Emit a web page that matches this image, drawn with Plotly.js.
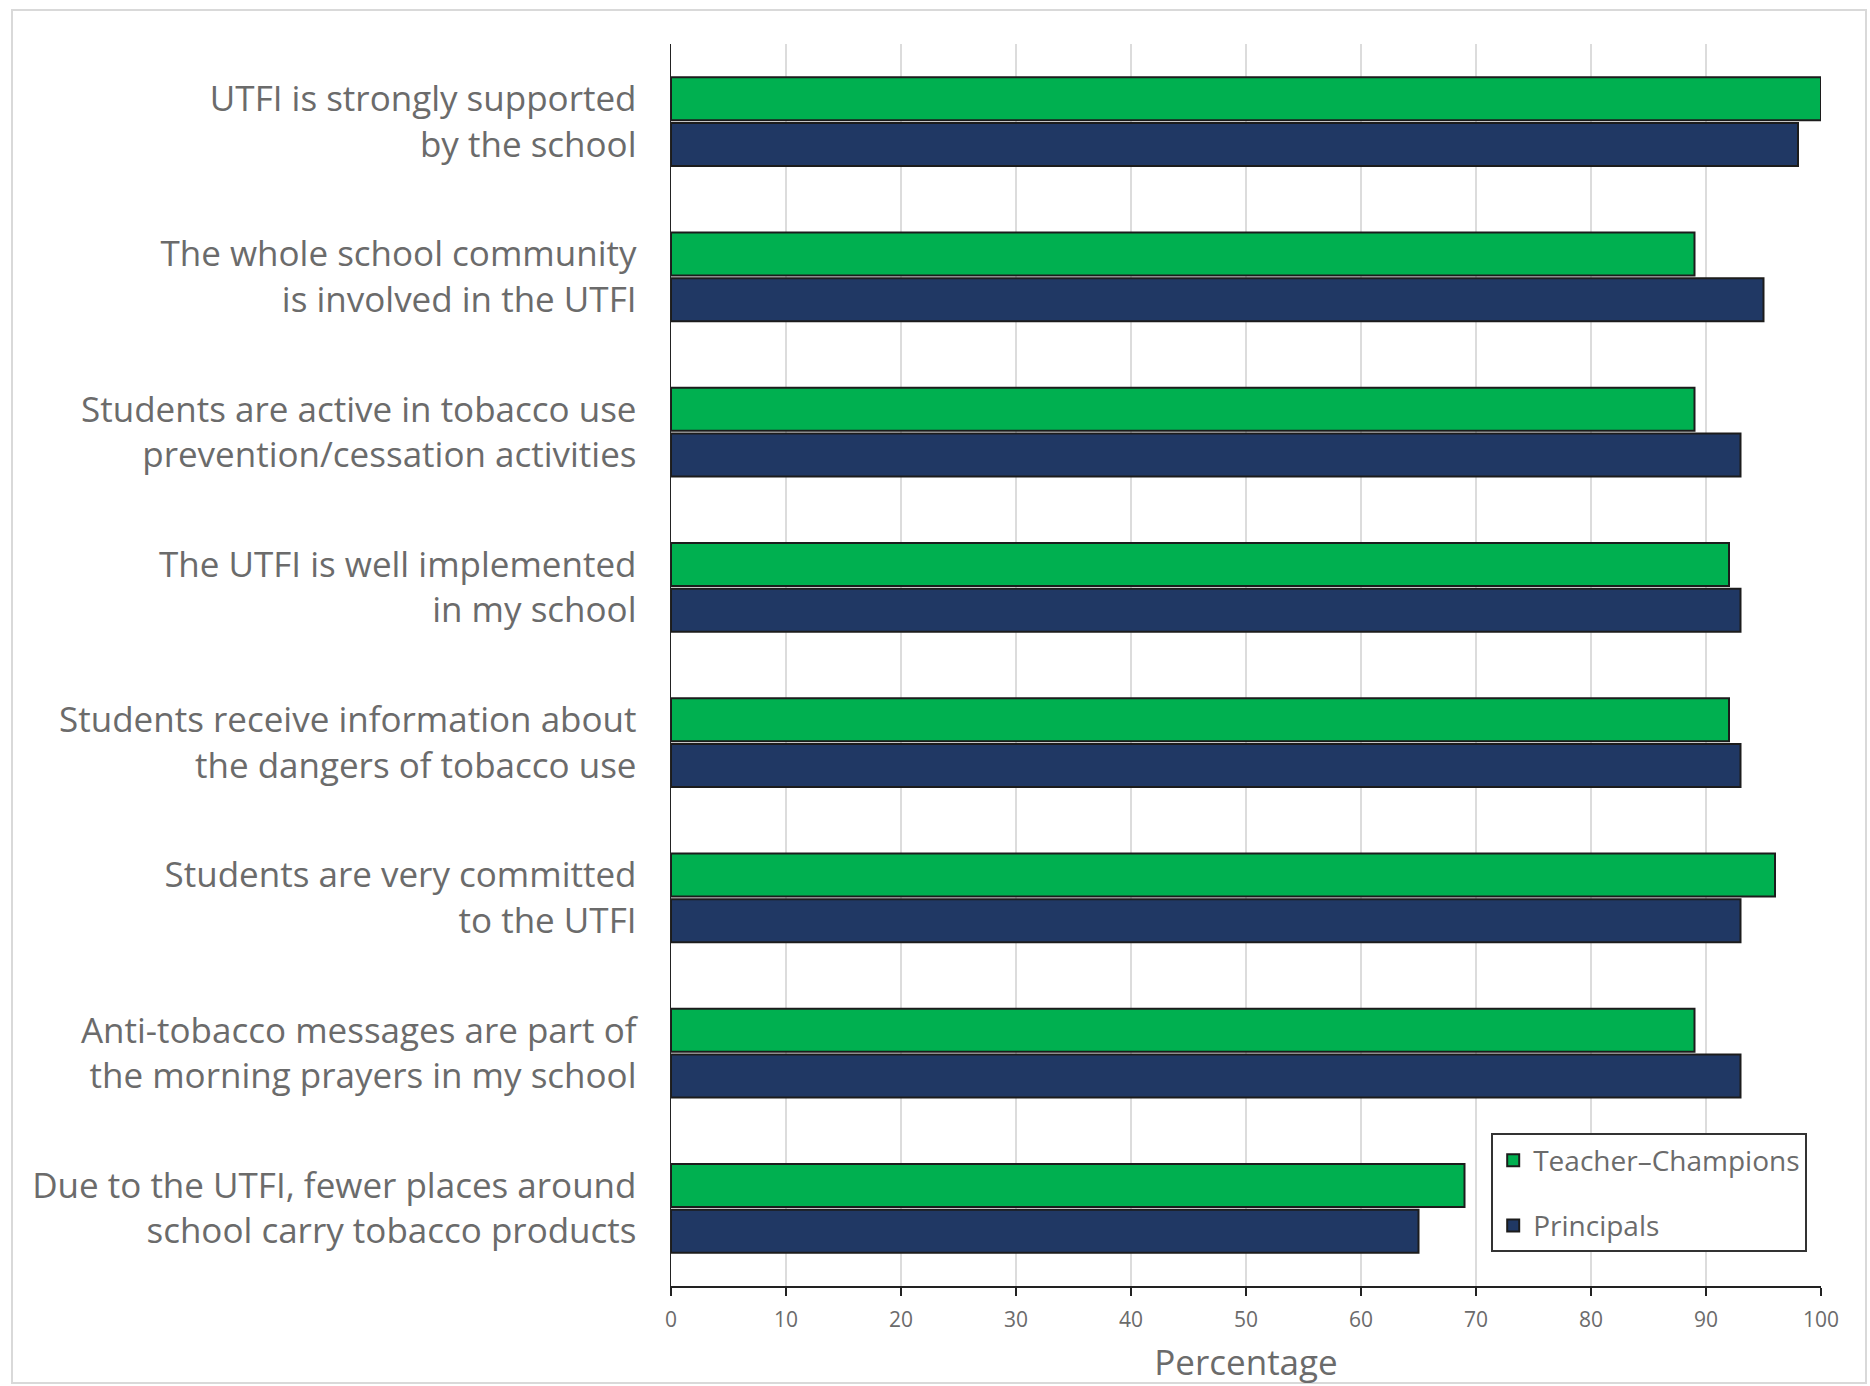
<!DOCTYPE html>
<html>
<head>
<meta charset="utf-8">
<script src="https://cdn.plot.ly/plotly-3.0.1.min.js"></script>
<style>
  html, body { margin: 0; padding: 0; background: #ffffff; }
  #chart { width: 1870px; height: 1386px; }
</style>
</head>
<body>
<div id="chart"></div>
<script>
// ---- data ----
const categories = [
  "UTFI is strongly supported<br>by the school",
  "The whole school community<br>is involved in the UTFI",
  "Students are active in tobacco use<br>prevention/cessation activities",
  "The UTFI is well implemented<br>in my school",
  "Students receive information about<br>the dangers of tobacco use",
  "Students are very committed<br>to the UTFI",
  "Anti-tobacco messages are part of<br>the morning prayers in my school",
  "Due to the UTFI, fewer places around<br>school carry tobacco products"
];
const teacherChampions = [100, 89, 89, 92, 92, 96, 89, 69];
const principals = [98, 95, 93, 93, 93, 93, 93, 65];
const seriesNames = ["Teacher\u2013Champions", "Principals"];
const xTicks = [0, 10, 20, 30, 40, 50, 60, 70, 80, 90, 100];

const FONT = "Open Sans, Liberation Sans, sans-serif";
const TEXT = "#6b6b6b";

const traces = [
  {
    type: "bar", orientation: "h", name: seriesNames[0],
    x: teacherChampions, y: categories,
    marker: { color: "#00b050", line: { color: "#1c1c1c", width: 2 } },
    legendgroup: "a"
  },
  {
    type: "bar", orientation: "h", name: seriesNames[1],
    x: principals, y: categories,
    marker: { color: "#203864", line: { color: "#1c1c1c", width: 2 } },
    legendgroup: "b"
  }
];

const layout = {
  width: 1870, height: 1386,
  margin: { l: 671, r: 49, t: 44, b: 100 },
  paper_bgcolor: "#ffffff", plot_bgcolor: "#ffffff",
  barmode: "group", bargap: 0.41, bargroupgap: 0.06,
  font: { family: FONT, color: TEXT },
  xaxis: {
    range: [0, 100], tickvals: xTicks, ticktext: xTicks.map(String),
    showgrid: true, gridcolor: "#dcdcdc", gridwidth: 1.5,
    zeroline: false,
    showline: true, linecolor: "#222222", linewidth: 2,
    ticks: "outside", ticklen: 8, tickwidth: 1.5, tickcolor: "#222222",
    ticklabelstandoff: 6,
    tickfont: { family: FONT, size: 21, color: TEXT },
    title: { text: "Percentage", font: { family: FONT, size: 35, color: TEXT }, standoff: 18 },
    fixedrange: true
  },
  yaxis: {
    type: "category", autorange: "reversed",
    showline: true, linecolor: "#222222", linewidth: 1.5,
    showgrid: false, zeroline: false, ticks: "",
    ticklabelstandoff: 26,
    tickfont: { family: FONT, size: 35, color: TEXT },
    fixedrange: true
  },
  legend: {
    x: 0.988, xanchor: "right", y: 0.027, yanchor: "bottom",
    bgcolor: "#ffffff", bordercolor: "#333333", borderwidth: 2,
    font: { family: FONT, size: 28, color: TEXT },
    traceorder: "grouped", tracegroupgap: 26
  },
  shapes: [
    {
      type: "rect", xref: "paper", yref: "paper", layer: "below",
      x0: (12 - 671) / 1150, x1: (1866 - 671) / 1150,
      y0: (1286 - 1383) / 1242, y1: (1286 - 10) / 1242,
      line: { color: "#d9d9d9", width: 2 }, fillcolor: "rgba(0,0,0,0)"
    }
  ],
  showlegend: true
};

Plotly.newPlot("chart", traces, layout, { displayModeBar: false, staticPlot: true });
</script>
</body>
</html>
